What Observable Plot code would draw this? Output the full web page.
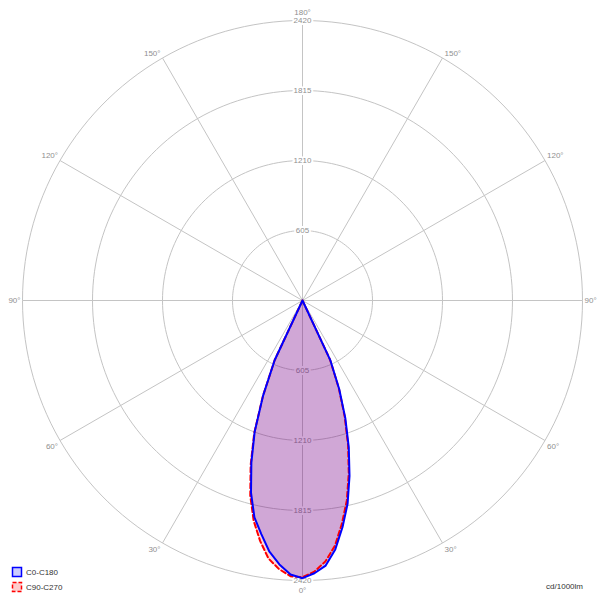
<!DOCTYPE html>
<html>
<head>
<meta charset="utf-8">
<script src="https://cdn.jsdelivr.net/npm/d3@7"></script>
<script src="https://cdn.jsdelivr.net/npm/@observablehq/plot@0.6"></script>
<style>
  html, body { margin: 0; padding: 0; background: #fff; }
  #chart { width: 603px; height: 601px; }
</style>
</head>
<body>
<div id="chart"></div>
<script>
// ---- data (cd/1000lm), gamma angle measured from nadir ----
const gammaAngles = [0, 2.5, 5, 7.5, 10, 12.5, 15, 17.5, 20, 22.5, 25, 30];
const c0   = [2400, 2360, 2300, 2170, 1990, 1800, 1570, 1330, 1082, 830, 568, 0]; // right half, blue
const c180 = [2400, 2370, 2290, 2190, 2050, 1920, 1720, 1470, 1210, 890, 570, 0]; // left half, blue
const c90  = [2390, 2345, 2265, 2140, 1960, 1770, 1545, 1310, 1065, 820, 560, 0]; // right half, red
const c270 = [2392, 2385, 2330, 2250, 2110, 1950, 1745, 1490, 1220, 895, 572, 0]; // left half, red
const ringValues = [605, 1210, 1815, 2420];
const spokeAngles = [0, 30, 60, 90, 120, 150, 180, 210, 240, 270, 300, 330];
const angleLabels = ["0°", "30°", "60°", "90°", "120°", "150°", "180°"];
const seriesNames = ["C0-C180", "C90-C270"];
const unitLabel = "cd/1000lm";

const rad = d => d * Math.PI / 180;
const maxR = 2420;
const k = maxR / 280;

// polygon for a plane: left half (negative x) and right half
function polygon(left, right) {
  const pts = [];
  for (let i = gammaAngles.length - 1; i >= 0; i--) {
    const a = rad(gammaAngles[i]);
    pts.push({x: -left[i] * Math.sin(a), y: -left[i] * Math.cos(a)});
  }
  for (let i = 1; i < gammaAngles.length; i++) {
    const a = rad(gammaAngles[i]);
    pts.push({x: right[i] * Math.sin(a), y: -right[i] * Math.cos(a)});
  }
  return pts;
}
const blue = polygon(c180, c0);
const red = polygon(c270, c90);

// rings
const ringPts = [];
for (const r of ringValues) {
  for (let t = 0; t <= 360; t += 2) {
    ringPts.push({ring: r, x: r * Math.sin(rad(t)), y: r * Math.cos(rad(t))});
  }
}
const spokes = spokeAngles.map(a => ({x2: maxR * Math.sin(rad(a)), y2: -maxR * Math.cos(rad(a))}));

// ring value labels on the vertical axis (top and bottom)
const ringLabels = ringValues.flatMap(v => [{v, y: v}, {v, y: -v}]);

// angle labels
const angLab = [];
angleLabels.forEach((lab, i) => {
  const g = i * 30;
  const sides = (g === 0 || g === 180) ? [0] : [-1, 1];
  for (const s of sides) {
    angLab.push({lab, g, s, x: s * maxR * Math.sin(rad(g)), y: -maxR * Math.cos(rad(g))});
  }
});
const font = "Liberation Sans, Arial, sans-serif";
const labColor = "#8f8f8f";
function angleMark(filter, anchor, dx, dy) {
  return Plot.text(angLab.filter(filter), {x: "x", y: "y", text: "lab", textAnchor: anchor, dx, dy,
    fill: labColor, fontSize: 8, fontFamily: font});
}

const plot = Plot.plot({
  width: 603, height: 601,
  marginTop: 0, marginRight: 0, marginBottom: 0, marginLeft: 0,
  x: {domain: [-302 * k, 301 * k], axis: null},
  y: {domain: [-301 * k, 300 * k], axis: null},
  style: {background: "#fff", fontFamily: font},
  marks: [
    Plot.line(ringPts, {x: "x", y: "y", z: "ring", stroke: "#c4c4c4", strokeWidth: 1}),
    Plot.link(spokes, {x1: 0, y1: 0, x2: "x2", y2: "y2", stroke: "#c4c4c4", strokeWidth: 1}),
    Plot.text(ringLabels, {x: 0, y: "y", text: d => String(d.v), fill: labColor, fontSize: 8,
      fontFamily: font, stroke: "#fff", strokeWidth: 4, paintOrder: "stroke"}),
    angleMark(d => d.g === 180, "middle", 0, -8),
    angleMark(d => d.g === 0, "middle", 0, 10),
    angleMark(d => d.g === 90 && d.s < 0, "end", -2, 0),
    angleMark(d => d.g === 90 && d.s > 0, "start", 2, 0),
    angleMark(d => d.g > 90 && d.g < 180 && d.s < 0, "end", -2, -5),
    angleMark(d => d.g > 90 && d.g < 180 && d.s > 0, "start", 2, -5),
    angleMark(d => d.g > 0 && d.g < 90 && d.s < 0, "end", -2, 6),
    angleMark(d => d.g > 0 && d.g < 90 && d.s > 0, "start", 2, 6),
    Plot.line(blue, {x: "x", y: "y", fill: "rgb(0,0,255)", fillOpacity: 0.215, stroke: "none"}),
    Plot.line(red, {x: "x", y: "y", fill: "rgb(255,0,0)", fillOpacity: 0.16, stroke: "none"}),
    Plot.line(red, {x: "x", y: "y", stroke: "#ff0000", strokeWidth: 2, strokeDasharray: "5,3"}),
    Plot.line(blue, {x: "x", y: "y", stroke: "#0000ff", strokeWidth: 2})
  ]
});
document.getElementById("chart").appendChild(plot);

// legend & unit label
const svg = d3.select(plot);
const leg = svg.append("g").attr("font-family", font).attr("font-size", 8)
  .attr("fill", "#333").attr("text-anchor", "start");
const legendStyles = [
  {stroke: "#0000ff", fill: "#cbcbff", dash: null},
  {stroke: "#ff0000", fill: "#ffcccc", dash: "4,2"}
];
seriesNames.forEach((name, i) => {
  const y0 = 567 + i * 15;
  leg.append("rect").attr("x", 12.5).attr("y", y0 + 0.5).attr("width", 9).attr("height", 9)
    .attr("fill", legendStyles[i].fill).attr("stroke", legendStyles[i].stroke).attr("stroke-width", 1.5)
    .attr("stroke-dasharray", legendStyles[i].dash);
  leg.append("text").attr("x", 26).attr("y", y0 + 5).attr("dy", "0.35em").text(name);
});
leg.append("text").attr("x", 583).attr("y", 586).attr("dy", "0.35em").attr("text-anchor", "end").text(unitLabel);
</script>
</body>
</html>
